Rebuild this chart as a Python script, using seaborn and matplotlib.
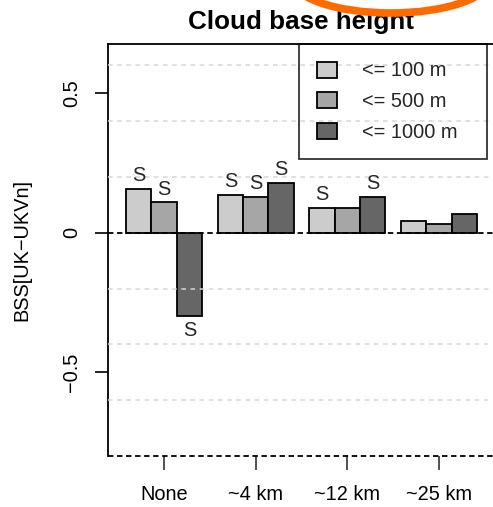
import numpy as np
import pandas as pd
import seaborn as sns
import matplotlib
matplotlib.use("Agg")
import matplotlib.pyplot as plt
from matplotlib.patches import Ellipse, Patch

# ---- data ----
categories = ["None", "~4 km", "~12 km", "~25 km"]
series = ["<= 100 m", "<= 500 m", "<= 1000 m"]
vals_100 = [0.157, 0.136, 0.089, 0.042]
vals_500 = [0.110, 0.129, 0.089, 0.032]
vals_1000 = [-0.297, 0.179, 0.129, 0.067]
sig_100 = [True, True, True, False]
sig_500 = [True, True, False, False]
sig_1000 = [True, True, True, False]
yticks = [-0.5, 0, 0.5]
ytick_labels = ["\u22120.5", "0", "0.5"]
grid_levels = [-0.6, -0.4, -0.2, 0.2, 0.4, 0.6]
title = "Cloud base height"
ylabel = "BSS[UK\u2212UKVn]"

colors = ["#cccccc", "#a6a6a6", "#666666"]

df = pd.DataFrame({
    "cat": categories * 3,
    "series": [series[0]] * 4 + [series[1]] * 4 + [series[2]] * 4,
    "val": vals_100 + vals_500 + vals_1000,
})
sigs = {series[0]: sig_100, series[1]: sig_500, series[2]: sig_1000}

sns.set_theme(style="white")
plt.rcParams["font.family"] = ["Liberation Sans", "DejaVu Sans"]

W, H = 493, 507
fig = plt.figure(figsize=(W / 100, H / 100), dpi=100)
ax = fig.add_axes([108 / W, 51 / H, 387 / W, 412 / H])

sns.barplot(data=df, x="cat", y="val", hue="series", order=categories,
            hue_order=series, palette=colors, saturation=1, edgecolor="black",
            linewidth=1.3, width=0.83, gap=0, errorbar=None, legend=False,
            ax=ax, zorder=2)

ax.set_xlim(-0.611, 3.61)
ax.set_ylim(-0.8, 0.676)

for g in grid_levels:
    ax.axhline(g, color="#d6d6d6", ls=(0, (3, 3)), lw=1.1, zorder=3)
ax.axhline(0, color="black", ls=(0, (3, 2)), lw=1.3, zorder=4)
ax.axhline(-0.8, color="black", ls=(0, (3, 2)), lw=1.3, zorder=4, clip_on=False)

for side in ["right", "bottom"]:
    ax.spines[side].set_visible(False)
for side in ["left", "top"]:
    ax.spines[side].set_visible(True)
    ax.spines[side].set_color("black")
    ax.spines[side].set_linewidth(1.3)

ax.set_yticks(yticks)
ax.set_yticklabels(ytick_labels)
ax.tick_params(axis="x", bottom=True, direction="out", length=10, width=1.2,
               color="#333333", pad=11, labelsize=14.4, labelcolor="black")
ax.tick_params(axis="y", left=True, direction="out", length=9.4, width=1.2,
               color="black", pad=10, labelsize=14.4, labelcolor="black")
for lab in ax.get_yticklabels():
    lab.set_rotation(90)
    lab.set_va("center")

ax.set_xlabel("")
ax.set_ylabel(ylabel, fontsize=14.4, color="black")
ax.yaxis.set_label_coords(-0.197, 0.5)
ax.set_title(title, fontsize=18.7, fontweight="bold", pad=10.8, color="black")

# significance markers
for i, cont in enumerate(ax.containers):
    s_list = sigs[series[i]]
    for bar in cont:
        xc = bar.get_x() + bar.get_width() / 2
        ci = int(round(xc))
        v = bar.get_height()
        if s_list[ci]:
            if v >= 0:
                ax.annotate("S", (xc, v), xytext=(0, 2.5), textcoords="offset points",
                            ha="center", va="bottom", fontsize=14.4, zorder=6)
            else:
                ax.annotate("S", (xc, v), xytext=(0, -4), textcoords="offset points",
                            ha="center", va="top", fontsize=14.4, zorder=6)

handles = [Patch(facecolor=c, edgecolor="black", linewidth=1.3) for c in colors]
leg = ax.legend(handles, series, loc="upper left",
                bbox_to_anchor=((299 - 108) / 387, 0, (487 - 299) / 387, 1.0),
                mode="expand", frameon=True, fancybox=False, fontsize=14.4,
                handlelength=1.0, handleheight=0.85, handletextpad=1.3,
                borderpad=0.875, labelspacing=0.575, borderaxespad=0)
leg.get_frame().set_linewidth(1.3)
leg.get_frame().set_edgecolor("black")
leg.get_frame().set_facecolor("none")
leg.set_zorder(7)

# orange annotation arc at the top
fig.add_artist(Ellipse((391 / W, 1 + 22 / H), 200 / W, 70 / H,
                       transform=fig.transFigure, fill=False,
                       edgecolor="#ff6a00", lw=5.5, zorder=10, clip_on=False))

fig.savefig("out.png", dpi=100)
